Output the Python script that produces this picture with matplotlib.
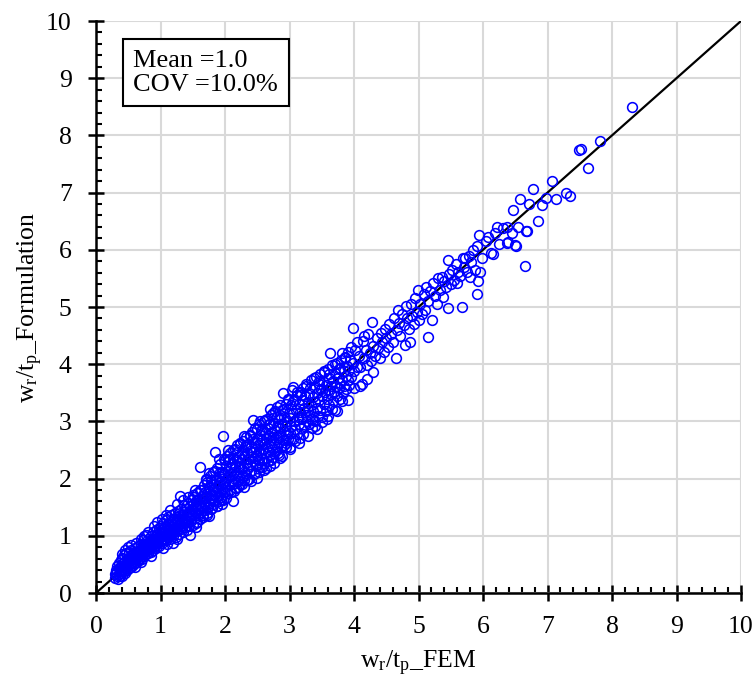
import matplotlib
matplotlib.use("Agg")
import matplotlib.pyplot as plt
import numpy as np

plt.rcParams['font.family'] = ['Liberation Serif', 'DejaVu Serif']
plt.rcParams['mathtext.fontset'] = 'custom'
plt.rcParams['mathtext.rm'] = 'Liberation Serif'
plt.rcParams['mathtext.it'] = 'Liberation Serif:italic'

# ---- (w_r/t_p FEM, w_r/t_p Formulation) pairs, by region ----
pts_a = [(0.29,0.33),(0.30,0.26),(0.31,0.41),(0.31,0.35),(0.32,0.29),(0.33,0.47),(0.33,0.38),(0.34,0.25),
         (0.35,0.33),(0.35,0.52),(0.36,0.43),(0.37,0.30),(0.37,0.38),(0.38,0.57),(0.39,0.47),(0.39,0.35),
         (0.40,0.42),(0.41,0.30),(0.41,0.62),(0.42,0.52),(0.43,0.38),(0.43,0.46),(0.44,0.66),(0.45,0.35),
         (0.45,0.56),(0.46,0.44),(0.47,0.50),(0.47,0.70),(0.48,0.40),(0.49,0.60),(0.49,0.48),(0.50,0.54),
         (0.51,0.43),(0.51,0.72),(0.52,0.62),(0.53,0.50),(0.53,0.57),(0.54,0.46),(0.55,0.66),(0.55,0.75),
         (0.56,0.53),(0.57,0.60),(0.57,0.49),(0.58,0.70),(0.59,0.56),(0.59,0.64),(0.60,0.52),(0.61,0.78),
         (0.61,0.66),(0.62,0.59),(0.63,0.70),(0.63,0.55),(0.64,0.63),(0.65,0.82),(0.65,0.74),(0.66,0.58),
         (0.67,0.67),(0.67,0.72),(0.68,0.62),(0.69,0.86),(0.69,0.76),(0.70,0.66),(0.71,0.71),(0.71,0.60),
         (0.72,0.80),(0.73,0.92),(0.73,0.69),(0.74,0.75),(0.75,0.64),(0.75,0.84),(0.76,0.72),(0.77,1.02),
         (0.77,0.79),(0.78,0.68),(0.79,0.88),(0.79,0.75),(0.80,0.82),(0.81,0.70),(0.81,0.95),(0.82,0.86),
         (0.83,0.77),(0.83,0.91),(0.84,0.81),(0.85,0.72),(0.85,1.00),(0.86,0.88),(0.87,0.80),(0.87,0.94),
         (0.88,1.06),(0.89,0.85),(0.89,0.76),(0.90,0.92),(0.91,0.98),(0.91,0.83),(0.92,0.89),(0.93,1.10),
         (0.93,0.79),(0.94,0.95),(0.95,0.87),(0.95,1.03),(0.96,0.92),(0.97,0.82),(0.97,1.14),(0.98,0.98),
         (0.99,0.90),(0.99,1.06)]

pts_b = [(1.00,1.04),(1.00,0.93),(1.01,1.18),(1.02,0.99),(1.02,1.10),(1.03,0.87),(1.04,0.78),(1.04,1.22),
         (1.05,1.06),(1.06,0.95),(1.06,1.13),(1.07,1.00),(1.08,1.27),(1.08,1.09),(1.09,0.92),(1.10,1.15),
         (1.10,1.03),(1.11,1.20),(1.12,0.98),(1.12,1.32),(1.13,1.11),(1.14,1.05),(1.14,0.94),(1.15,1.24),
         (1.16,1.16),(1.16,1.02),(1.17,1.36),(1.18,1.09),(1.18,1.20),(1.19,0.87),(1.19,1.00),(1.20,1.27),
         (1.21,1.14),(1.21,1.06),(1.22,1.40),(1.23,1.22),(1.23,1.10),(1.24,0.98),(1.25,1.30),(1.25,1.17),
         (1.26,1.08),(1.27,1.44),(1.27,1.24),(1.28,1.13),(1.29,1.34),(1.29,1.03),(1.30,1.70),(1.30,1.21),
         (1.31,1.29),(1.32,1.12),(1.32,1.47),(1.33,1.37),(1.34,1.18),(1.34,1.26),(1.35,1.07),(1.36,1.42),
         (1.36,1.31),(1.37,1.53),(1.38,1.22),(1.38,1.15),(1.39,1.37),(1.40,1.28),(1.40,1.47),(1.41,1.10),
         (1.42,1.58),(1.42,1.35),(1.43,1.24),(1.44,1.43),(1.44,1.17),(1.45,1.52),(1.46,1.01),(1.46,1.33),
         (1.47,1.40),(1.48,1.63),(1.48,1.26),(1.49,1.47),(1.50,1.36),(1.50,1.56),(1.51,1.19),(1.52,1.44),
         (1.52,1.68),(1.53,1.31),(1.54,1.52),(1.55,1.40),(1.55,1.60),(1.56,1.25),(1.57,1.74),(1.57,1.47),
         (1.58,1.36),(1.59,1.56),(1.60,1.45),(1.60,1.65),(1.61,2.20),(1.61,1.30),(1.62,1.52),(1.63,1.80),
         (1.63,1.41),(1.64,1.60),(1.65,1.48),(1.65,1.70),(1.66,1.36),(1.67,1.88),(1.67,1.57),(1.68,1.64),
         (1.69,1.45),(1.69,1.76),(1.70,1.53),(1.71,1.68),(1.72,1.94),(1.72,1.40),(1.73,1.60),(1.74,1.78),
         (1.74,1.50),(1.75,1.85),(1.76,1.66),(1.77,1.58),(1.77,2.05),(1.78,1.72),(1.79,1.47),(1.79,1.90),
         (1.80,1.64),(1.81,1.80),(1.82,2.12),(1.82,1.55),(1.83,1.72),(1.84,2.47),(1.84,1.86),(1.85,1.63),
         (1.86,1.96),(1.86,1.77),(1.87,1.52),(1.88,2.18),(1.88,1.83),(1.89,1.70),(1.90,1.92),(1.91,1.60),
         (1.91,2.05),(1.92,1.78),(1.93,2.26),(1.93,1.88),(1.94,1.68),(1.95,2.00),(1.96,1.82),(1.96,2.12),
         (1.97,2.74),(1.97,1.63),(1.98,1.93),(1.99,2.34),(1.99,1.76)]

pts_c = [(2.00,2.08),(2.01,1.85),(2.01,2.22),(2.02,1.97),(2.03,2.40),(2.03,1.74),(2.04,2.14),(2.05,2.02),
         (2.06,1.90),(2.06,2.30),(2.07,2.08),(2.08,1.80),(2.08,2.45),(2.09,2.18),(2.10,1.96),(2.11,2.26),
         (2.11,2.05),(2.12,1.61),(2.13,2.36),(2.13,1.90),(2.14,2.12),(2.15,2.52),(2.16,2.00),(2.16,2.22),
         (2.17,1.84),(2.18,2.32),(2.18,2.10),(2.19,2.58),(2.20,1.95),(2.21,2.20),(2.21,2.40),(2.22,2.05),
         (2.23,2.62),(2.23,2.28),(2.24,1.90),(2.25,2.16),(2.26,2.45),(2.26,2.02),(2.27,2.34),(2.28,2.66),
         (2.28,2.20),(2.29,1.98),(2.30,2.40),(2.31,2.10),(2.31,2.55),(2.32,2.28),(2.33,2.06),(2.33,2.72),
         (2.34,2.44),(2.35,2.18),(2.36,2.34),(2.36,2.60),(2.37,2.00),(2.38,2.48),(2.38,2.26),(2.39,2.76),
         (2.40,2.38),(2.41,2.14),(2.41,2.55),(2.42,2.82),(2.43,2.30),(2.44,3.02),(2.44,2.46),(2.45,2.08),
         (2.46,2.62),(2.46,2.36),(2.47,2.88),(2.48,2.22),(2.48,2.52),(2.49,2.70),(2.50,2.01),(2.50,2.42),
         (2.51,2.58),(2.52,2.95),(2.52,2.32),(2.53,2.50),(2.54,2.76),(2.55,2.20),(2.55,2.62),(2.56,2.45),
         (2.57,2.86),(2.57,2.34),(2.58,2.68),(2.59,2.52),(2.60,3.00),(2.60,2.28),(2.61,2.60),(2.62,2.44),
         (2.62,2.80),(2.63,2.70),(2.64,2.36),(2.65,3.05),(2.65,2.56),(2.66,2.88),(2.67,2.48),(2.67,2.30),
         (2.68,2.74),(2.69,2.62),(2.70,2.95),(2.70,2.42),(2.71,2.68),(2.72,3.12),(2.72,2.55),(2.73,2.82),
         (2.74,2.38),(2.75,2.72),(2.75,2.98),(2.76,2.60),(2.77,3.18),(2.77,2.46),(2.78,2.85),(2.79,2.70),
         (2.80,3.25),(2.80,2.55),(2.81,2.92),(2.82,2.76),(2.82,2.45),(2.83,3.05),(2.84,2.64),(2.85,2.36),
         (2.85,2.88),(2.86,3.12),(2.87,2.74),(2.87,2.55),(2.88,3.20),(2.89,2.96),(2.90,3.49),(2.90,2.68),
         (2.91,2.84),(2.92,3.08),(2.92,2.58),(2.93,2.92),(2.94,3.30),(2.94,2.76),(2.95,2.62),(2.96,3.00),
         (2.97,3.40),(2.97,2.84),(2.98,2.70),(2.99,3.15)]

pts_d = [(3.00,3.06),(3.01,2.80),(3.02,3.28),(3.03,2.92),(3.04,3.55),(3.05,3.61),(3.05,3.14),(3.06,2.70),
         (3.07,3.00),(3.08,3.38),(3.09,2.86),(3.10,3.20),(3.11,3.46),(3.12,2.78),(3.13,3.08),(3.14,3.30),
         (3.15,2.95),(3.16,2.71),(3.16,3.52),(3.17,3.16),(3.18,2.88),(3.19,3.38),(3.20,3.05),(3.21,3.58),
         (3.22,3.24),(3.23,2.92),(3.24,3.44),(3.25,3.12),(3.26,3.66),(3.27,3.00),(3.28,3.32),(3.29,3.20),
         (3.30,2.96),(3.31,3.50),(3.32,3.10),(3.33,3.72),(3.34,3.28),(3.35,3.05),(3.36,3.42),(3.37,3.18),
         (3.38,3.60),(3.39,3.00),(3.40,3.34),(3.41,3.78),(3.42,3.24),(3.43,3.50),(3.44,3.10),(3.45,3.66),
         (3.46,3.38),(3.47,3.82),(3.48,3.20),(3.49,3.56),(3.50,2.99),(3.51,3.44),(3.52,3.70),(3.53,3.30),
         (3.54,3.88),(3.55,3.52),(3.56,3.18),(3.57,3.64),(3.58,3.40),(3.59,3.92),(3.60,3.55),(3.61,3.28),
         (3.62,3.76),(3.63,4.19),(3.64,3.48),(3.65,3.62),(3.66,3.98),(3.67,3.36),(3.68,3.70),(3.69,3.52),
         (3.70,3.85),(3.71,3.20),(3.72,3.62),(3.73,4.02),(3.74,3.45),(3.75,3.76),(3.76,3.58),(3.77,3.92),
         (3.78,3.68),(3.79,3.40),(3.80,4.08),(3.81,4.19),(3.82,3.72),(3.83,3.50),(3.84,3.88),(3.85,3.62),
         (3.86,4.12),(3.87,3.80),(3.88,3.56),(3.89,3.96),(3.90,3.72),(3.91,4.22),(3.92,3.64),(3.93,3.90),
         (3.95,4.30),(3.96,3.78),(3.98,4.63),(3.98,4.02),(4.00,3.88),(4.02,4.25),(4.04,3.95)]

pts_edge = [(0.40,0.68),(0.45,0.75),(0.50,0.80),(0.55,0.84),(0.62,0.88),(0.70,0.95),(0.74,1.00),
            (0.80,1.06),(0.90,1.18),(0.95,1.25),(1.02,1.30),(1.08,1.36),(1.15,1.45),(1.25,1.55),
            (1.35,1.62),(1.42,1.68),(1.53,1.80),(1.70,2.00),(1.75,2.10),(1.90,2.35),(2.05,2.50),
            (2.30,2.75),(2.55,3.00),(2.70,3.22),(0.60,0.45),(0.70,0.55),(0.85,0.65),(1.10,0.85),
            (1.25,0.95),(1.55,1.15),(1.75,1.35),(1.95,1.55),(2.30,1.85),(2.60,2.15),(2.70,2.22),
            (3.00,2.55),(3.40,2.92),(3.60,3.10)]

pts_upper = [(1.50,1.72),(1.62,1.80),(1.70,1.97),(1.78,1.98),(1.85,2.14),(1.92,2.12),(2.00,2.32),
             (2.06,2.34),(2.12,2.50),(2.18,2.46),(2.24,2.60),(2.32,2.58),(2.38,2.74),(2.44,2.70),
             (2.50,2.86),(2.56,2.84),(2.62,3.02),(2.68,2.96),(2.74,3.15),(2.80,3.08),(2.86,3.28),
             (2.92,3.22),(2.98,3.38),(3.05,3.36),(3.12,3.52),(3.18,3.46),(3.25,3.62),(3.32,3.58),
             (3.38,3.76),(3.46,3.70),(3.54,3.86),(3.62,3.82),(3.70,4.00),(3.78,3.94),(3.86,4.10),
             (3.94,4.08),(4.05,4.38),(4.15,4.50)]

pts_lower = [(1.55,1.22),(1.66,1.33),(1.72,1.36),(1.80,1.48),(1.88,1.52),(1.94,1.62),(2.02,1.66),
             (2.09,1.76),(2.14,1.78),(2.20,1.86),(2.27,1.90),(2.34,1.98),(2.40,1.96),(2.47,2.10),
             (2.53,2.12),(2.58,2.20),(2.64,2.18),(2.71,2.32),(2.76,2.28),(2.83,2.42),(2.88,2.40),
             (2.95,2.55),(3.01,2.52),(3.08,2.66),(3.14,2.62),(3.21,2.78),(3.28,2.74),(3.35,2.88),
             (3.42,2.86),(3.50,3.08),(3.58,3.05),(3.66,3.22),(3.74,3.18),(3.82,3.36),(3.90,3.38),
             (4.00,3.58),(4.10,3.62),(4.20,3.75)]

pts_e = [(4.08,4.15),(4.10,3.95),(4.12,3.66),(4.14,4.40),(4.16,4.10),(4.18,4.25),(4.20,3.98),(4.22,4.52),
         (4.25,4.20),(4.27,4.05),(4.28,4.74),(4.29,3.86),(4.30,4.32),(4.33,4.15),(4.35,4.45),(4.37,4.28),
         (4.40,4.10),(4.42,4.55),(4.44,4.38),(4.46,4.22),(4.48,4.62),(4.50,4.45),(4.52,4.30),(4.55,4.70),
         (4.57,4.52),(4.60,4.38),(4.62,4.80),(4.65,4.11),(4.66,4.60),(4.68,4.95),(4.70,4.72),(4.72,4.50),
         (4.75,4.88),(4.77,4.68),(4.79,4.34),(4.80,5.02),(4.82,4.80),(4.85,4.62),(4.87,4.39),(4.88,5.05),
         (4.90,4.85),(4.93,4.70),(4.95,5.15),(4.97,4.92),(4.99,5.30),(5.00,4.78),(5.03,5.05),(5.05,4.88),
         (5.08,5.22),(5.10,4.95),(5.12,5.35),(5.15,4.48),(5.15,5.10),(5.18,5.28),(5.21,4.77),(5.22,5.42),
         (5.25,5.20),(5.28,5.05),(5.30,5.50),(5.33,5.30),(5.36,5.52),(5.38,5.18),(5.40,5.45),(5.43,5.35),
         (5.46,4.98),(5.46,5.82),(5.48,5.58),(5.50,5.40),(5.52,5.65),(5.55,5.48),(5.58,5.75),(5.60,5.42),
         (5.62,5.62),(5.65,5.55),(5.67,5.00),(5.69,5.86),(5.70,5.70),(5.72,5.86),(5.75,5.62),(5.78,5.90),
         (5.80,5.52),(5.82,5.78),(5.85,6.00),(5.88,5.65),(5.90,5.23),(5.91,6.07),(5.92,5.45),(5.94,6.26),
         (5.95,5.61),(5.98,5.86)]

pts_f = [(6.05,6.15),(6.08,6.22),(6.12,5.95),(6.16,5.93),(6.18,6.30),(6.22,6.40),(6.25,6.10),(6.31,6.38),
         (6.37,6.40),(6.37,6.12),(6.39,6.14),(6.45,6.29),(6.47,6.70),(6.50,6.08),(6.51,6.07),(6.54,6.40),
         (6.57,6.89),(6.65,5.72),(6.67,6.33),(6.68,6.33),(6.71,6.80),(6.78,7.06),(6.85,6.50),(6.91,6.78),
         (6.98,6.91),(7.07,7.20),(7.13,6.89),(7.29,6.99),(7.35,6.94),(7.49,7.74),(7.52,7.76),(7.63,7.43),
         (7.81,7.90),(8.31,8.50)]

line_x = [0, 10]
line_y = [0, 10]
ticks = [0, 1, 2, 3, 4, 5, 6, 7, 8, 9, 10]
stats_text = "Mean =1.0\nCOV =10.0%"

allpts = np.array(pts_a + pts_b + pts_c + pts_d + pts_edge + pts_upper + pts_lower + pts_e + pts_f)
fem = allpts[:, 0]
form = allpts[:, 1]

fig = plt.figure(figsize=(7.56, 6.82), dpi=100)
ax = fig.add_axes([96/756, 1 - 593/682, 645/756, 572/682])

ax.plot(line_x, line_y, color='black', lw=1.6, zorder=2)
ax.plot(fem, form, linestyle='none', marker='o', markersize=7.0, markerfacecolor='none',
        markeredgecolor='#0000FF', markeredgewidth=1.15, zorder=3)

ax.set_xlim(0, 10)
ax.set_ylim(0, 10)
ax.set_xticks(ticks)
ax.set_yticks(ticks)
ax.set_xticks(np.arange(0, 10.01, 0.2), minor=True)
ax.set_yticks(np.arange(0, 10.01, 0.2), minor=True)
ax.grid(True, which='major', color='#d9d9d9', lw=1.5, zorder=0)
ax.set_axisbelow(True)

for s in ['top', 'right']:
    ax.spines[s].set_visible(False)
for s in ['left', 'bottom']:
    ax.spines[s].set_linewidth(1.8)
    ax.spines[s].set_zorder(4)

ax.tick_params(which='major', direction='inout', length=11, width=1.8, labelsize=18.5, pad=12)
ax.tick_params(which='minor', direction='in', length=4, width=1.5)
ax.tick_params(axis='x', which='major', pad=11)

ax.set_xlabel('w$_\\mathregular{r}$/t$_\\mathregular{p}$_FEM', fontsize=18.5, labelpad=8)
ax.set_ylabel('w$_\\mathregular{r}$/t$_\\mathregular{p}$_Formulation', fontsize=18.5, labelpad=1)

ax.text(0.058, 0.950, stats_text, transform=ax.transAxes, fontsize=19, va='top', ha='left',
        linespacing=1.12, zorder=6,
        bbox=dict(boxstyle='square,pad=0.4', facecolor='white', edgecolor='black', lw=1.5))

fig.savefig('out.png', dpi=100)
